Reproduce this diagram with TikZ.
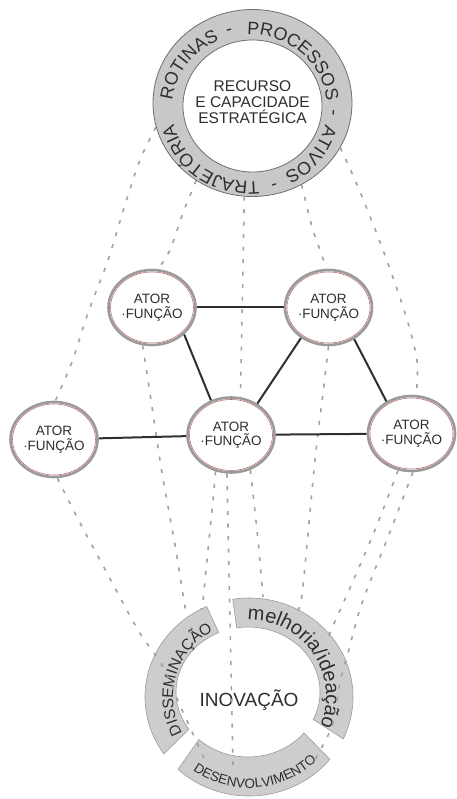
\documentclass[tikz,border=0pt]{standalone}
\usepackage{fontspec}
\setmainfont{Liberation Sans}
\usetikzlibrary{shapes.geometric,decorations.text}
\definecolor{txt}{HTML}{2E2E2E}
\definecolor{ringfill}{HTML}{C8C8C8}
\definecolor{ringline}{HTML}{6E6E6E}
\definecolor{bandfill}{HTML}{CDCDCD}
\definecolor{bandline}{HTML}{9C9C9C}
\definecolor{dashgray}{HTML}{A2A2A2}
\definecolor{edgegray}{HTML}{2F2F2F}
\definecolor{actline}{HTML}{9A9A9A}
\definecolor{actred}{HTML}{B86A6A}
\pgfdeclarelayer{back}
\pgfdeclarelayer{mid}
\pgfsetlayers{back,mid,main}
\begin{document}
\begin{tikzpicture}[x=1pt,y=1pt,
  actor/.style={ellipse, minimum width=87pt, minimum height=75pt, inner sep=0pt, fill=white, draw=actline, line width=2.6pt, align=center, text=txt, font=\fontsize{13.5}{14.5}\selectfont},
  rimline/.style={draw=actred, line width=0.55pt},
  linkedge/.style={draw=edgegray, line width=2pt},
  dashln/.style={draw=dashgray, line width=1.6pt, dash pattern=on 4pt off 8.5pt},
  bandshape/.style={fill=bandfill, draw=bandline, line width=0.6pt},
  ringpart/.style={ellipse, inner sep=0pt, draw=ringline, line width=0.8pt},
  hyph/.style={inner sep=0pt, font=\fontsize{18}{18}\selectfont, text=txt}]
\useasboundingbox (0,0) rectangle (456,799);

% ---------- bottom circle (innovation) ----------
\begin{pgfonlayer}{back}
\fill[white] (0,0) rectangle (456,799);
\path[bandshape] ([shift={(249,102)}]114:104pt and 99pt) arc[start angle=114,end angle=215,x radius=104pt,y radius=99pt]
   -- ([shift={(248,107)}]215:72pt and 65pt) arc[start angle=215,end angle=114,x radius=72pt,y radius=65pt] -- cycle;
\path[bandshape] ([shift={(249,102)}]99:104pt and 99pt) arc[start angle=99,end angle=-25,x radius=104pt,y radius=99pt]
   -- ([shift={(248,107)}]-25:72pt and 65pt) arc[start angle=-25,end angle=99,x radius=72pt,y radius=65pt] -- cycle;
\path[bandshape] ([shift={(249,102)}]227:104pt and 99pt) arc[start angle=227,end angle=321,x radius=104pt,y radius=99pt]
   -- ([shift={(248,107)}]321:72pt and 65pt) arc[start angle=321,end angle=227,x radius=72pt,y radius=65pt] -- cycle;
\node[font=\fontsize{19}{19}\selectfont, text=txt, inner sep=0pt] (inov) at (249,99) {INOVAÇÃO};
\path[decorate, decoration={text along path, text={|\fontsize{15.5}{15.5}\selectfont\color{txt}|DISSEMINAÇÃO}, text align=center}]
  ([shift={(249,102)}]223.5:76pt and 75pt) arc[start angle=223.5,end angle=103.5,x radius=76pt,y radius=75pt];
\path[decorate, decoration={text along path, text={|\fontsize{20}{20}\selectfont\color{txt}|melhoria/ideação}, text align=center}]
  ([shift={(249,102)}]104.5:77pt and 77pt) arc[start angle=104.5,end angle=-35.5,x radius=77pt,y radius=77pt];
\path[decorate, decoration={text along path, text={|\fontsize{13.5}{13.5}\selectfont\color{txt}|DESENVOLVIMENTO}, text align=center}]
  ([shift={(249,102)}]219.75:94pt and 91pt) arc[start angle=219.75,end angle=329.75,x radius=94pt,y radius=91pt];
\end{pgfonlayer}

% ---------- top ring ----------
\node[ringpart, fill=ringfill, minimum width=199pt, minimum height=187pt] (top) at (252.5,696) {};
\node[ringpart, fill=white, minimum width=139pt, minimum height=132pt] (topin) at (252.5,693) {};
\node[align=center, text=txt, font=\fontsize{15.5}{16}\selectfont, inner sep=0pt] (rec) at (252.5,697) {RECURSO\\E CAPACIDADE\\ESTRATÉGICA};
\path[decorate, decoration={text along path, text={|\fontsize{18}{18}\selectfont\color{txt}|ROTINAS}, text align=center}]
  ([shift={(249.5,691)}]194:77.5pt and 73.5pt) arc[start angle=194,end angle=94,x radius=77.5pt,y radius=73.5pt];
\path[decorate, decoration={text along path, text={|\fontsize{18}{18}\selectfont\color{txt}|PROCESSOS}, text align=center}]
  ([shift={(249.5,691)}]98.5:77.5pt and 73.5pt) arc[start angle=98.5,end angle=-1.5,x radius=77.5pt,y radius=73.5pt];
\path[decorate, decoration={text along path, text={|\fontsize{18}{18}\selectfont\color{txt}|ATIVOS}, text align=center}]
  ([shift={(249.5,691)}]12.5:77.5pt and 73.5pt) arc[start angle=12.5,end angle=-87.5,x radius=77.5pt,y radius=73.5pt];
\path[decorate, decoration={text along path, text={|\fontsize{18}{18}\selectfont\color{txt}|TRAJETÓRIA}, text align=center}]
  ([shift={(249.5,691)}]-75.5:77.5pt and 73.5pt) arc[start angle=-75.5,end angle=-175.5,x radius=77.5pt,y radius=73.5pt];
\node[hyph, rotate=14] (h1) at ([shift={(249.5,691)}]104:82pt and 78pt) {-};
\node[hyph, rotate=-93.4] (h2) at ([shift={(249.5,691)}]-3.4:82pt and 78pt) {-};
\node[hyph, rotate=-163] (h3) at ([shift={(249.5,691)}]-73:82pt and 78pt) {-};

% ---------- actors ----------
\node[actor] (TL) at (152,491.5) {ATOR\\·FUNÇÃO};
\node[actor] (TR) at (328.5,491.5) {ATOR\\·FUNÇÃO};
\node[actor] (L) at (54,359.5) {ATOR\\·FUNÇÃO};
\node[actor] (C) at (231,364) {ATOR\\·FUNÇÃO};
\node[actor] (R) at (411.5,365.5) {ATOR\\·FUNÇÃO};
\foreach \a in {TL,TR,L,C,R}{\draw[rimline] (\a.center) ellipse [x radius=41.5pt, y radius=35.5pt];}

% ---------- solid links ----------
\draw[linkedge] (TL) -- (TR);
\draw[linkedge] (TL.-40) -- (C.120);
\draw[linkedge] (TR.228) -- (C.50);
\draw[linkedge] (TR.-51) -- (R.128);
\draw[linkedge] (L) -- (C);
\draw[linkedge] (C) -- (R);

% ---------- dashed lines ----------
\begin{pgfonlayer}{mid}
\draw[dashln] plot[smooth] coordinates {(top.194) (140,639) (125,594) (108,539) (88,486) (72,437) (L.88)};
\draw[dashln] plot[smooth] coordinates {(L.275) (78,280) (100,239) (138,169) (162,134) (182,89) (204,41)};
\draw[dashln] plot[smooth] coordinates {(top.234) (183,586) (170,549) (TL.81)};
\draw[dashln] plot[smooth] coordinates {(TL.256) (148,419) (155,372) (162,326) (175,254) (185,192) (188,182)};
\draw[dashln] (top.265) -- (C.76);
\draw[dashln] plot[smooth] coordinates {(C.247) (213,299) (207,239) (203,199) (201,189)};
\draw[dashln] (C.264) -- (233,34);
\draw[dashln] plot[smooth] coordinates {(C.299) (258,259) (263,202)};
\draw[dashln] plot[smooth] coordinates {(top.301) (312,572) (320,549) (TR.93)};
\draw[dashln] plot[smooth] coordinates {(TR.270) (323,406) (318,366) (313,319) (302,204) (297,189)};
\draw[dashln] plot[smooth] coordinates {(top.333) (358,612) (383,549) (405,486) (417,439) (R.83)};
\draw[dashln] plot[smooth] coordinates {(R.250) (375,269) (350,211) (332,171) (328,161)};
\draw[dashln] plot[smooth] coordinates {(R.272) (390,267) (362,196) (348,146) (340,117) (333,76) (322,52) (313,36)};
\end{pgfonlayer}
\end{tikzpicture}
\end{document}
